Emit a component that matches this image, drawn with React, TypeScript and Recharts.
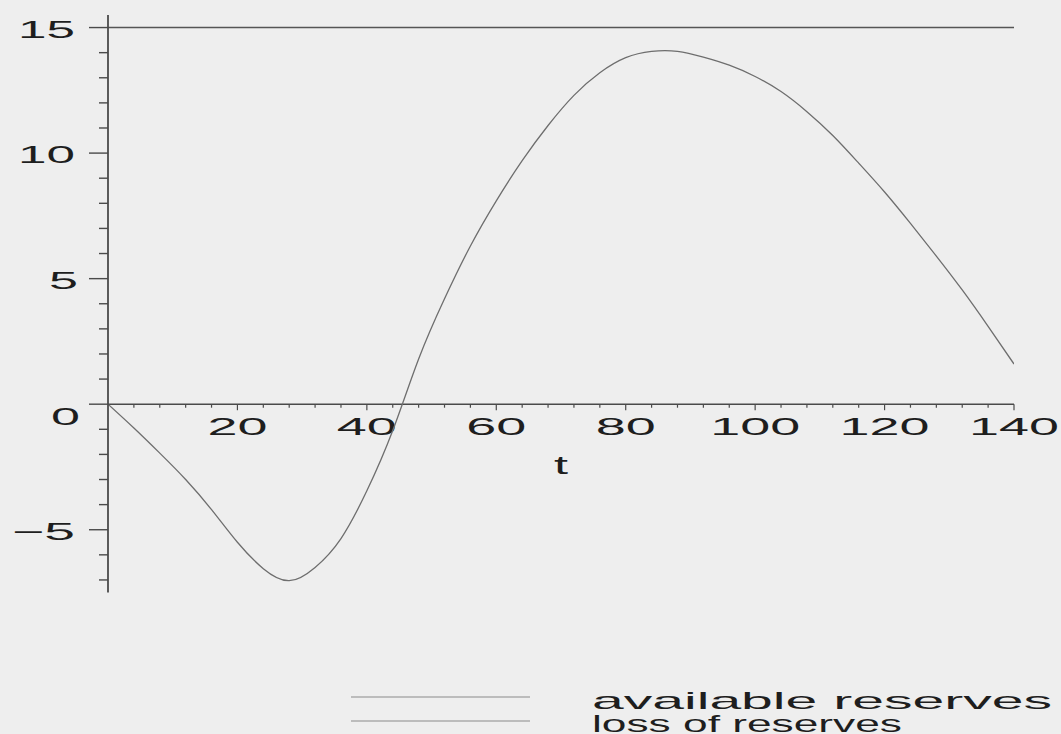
import { LineChart, Line, XAxis, YAxis, ReferenceLine, Legend } from "recharts";

// time axis samples (t) and the loss-of-reserves curve
const tValues = [
  0, 4, 8, 12, 16, 20, 24, 28, 32, 36, 40, 44, 48, 52, 56, 60, 64, 68, 72, 76,
  80, 84, 88, 92, 96, 100, 104, 108, 112, 116, 120, 124, 128, 132, 136, 140,
];
const lossValues = [
  0, -0.95, -1.95, -3.0, -4.2, -5.5, -6.55, -7.03, -6.5, -5.35, -3.45, -1.05, 1.8, 4.2,
  6.3, 8.1, 9.7, 11.1, 12.3, 13.2, 13.8, 14.05, 14.05, 13.82, 13.5, 13.05, 12.45,
  11.65, 10.7, 9.6, 8.45, 7.2, 5.9, 4.55, 3.1, 1.6,
];

// available reserves is a flat level
const availableT = [0, 140];
const availableValues = [15, 15];

const yTicks = [-7, -6, -5, -4, -3, -2, -1, 0, 1, 2, 3, 4, 5, 6, 7, 8, 9, 10, 11, 12, 13, 14, 15];
const yLabels = [-5, 0, 5, 10, 15];
const xTicks = [
  4, 8, 12, 16, 20, 24, 28, 32, 36, 40, 44, 48, 52, 56, 60, 64, 68, 72, 76, 80, 84,
  88, 92, 96, 100, 104, 108, 112, 116, 120, 124, 128, 132, 136, 140,
];
const xLabels = [20, 40, 60, 80, 100, 120, 140];

const lossData = tValues.map((t, i) => ({ t, loss: lossValues[i] }));
const availableData = availableT.map((t, i) => ({ t, available: availableValues[i] }));

const FONT = "'Liberation Sans', Arial, Helvetica, sans-serif";
const INK = "#1e1e1e";
const AXIS = "#4a4a4a";

function YTick(props: any) {
  const { x, y, payload } = props;
  const v = payload.value as number;
  const major = yLabels.includes(v);
  const len = major ? 19 : 9;
  const label = v < 0 ? `\u2212${Math.abs(v)}` : String(v);
  const single = label.length === 1;
  const w = single ? 29 : v < 0 ? 63 : 57;
  return (
    <g>
      <line x1={x - len} y1={y} x2={x} y2={y} stroke={AXIS} strokeWidth={1.4} />
      {major && (
        <text
          x={v === 0 ? 80 : single ? 78 : 75}
          y={y + (v === 0 ? 21 : 10)}
          textAnchor="end"
          fontFamily={FONT}
          fontSize={24}
          fill={INK}
          textLength={w}
          lengthAdjust="spacingAndGlyphs"
        >
          {label}
        </text>
      )}
    </g>
  );
}

const xTickLabel = (text: string) => (props: any) => {
  const vb = props.viewBox;
  return (
    <text
      x={vb.x}
      y={vb.y + 31}
      textAnchor="middle"
      fontFamily={FONT}
      fontSize={24}
      fill={INK}
      textLength={text.length * 30}
      lengthAdjust="spacingAndGlyphs"
    >
      {text}
    </text>
  );
};

const axisTitle = (props: any) => {
  const vb = props.viewBox;
  return (
    <text
      x={vb.x}
      y={vb.y + 70}
      textAnchor="middle"
      fontFamily={FONT}
      fontSize={25}
      fill={INK}
      textLength={14}
      lengthAdjust="spacingAndGlyphs"
    >
      t
    </text>
  );
};

const legendWidths: Record<string, number> = {
  "available reserves": 460,
  "loss of reserves": 310,
};

function renderLegend(props: any) {
  const items = props.payload || [];
  return (
    <svg width={1061} height={58} style={{ display: "block", overflow: "visible" }}>
      {items.map((item: any, i: number) => (
        <g key={item.value}>
          <line x1={351} x2={530} y1={21 + i * 24} y2={21 + i * 24} stroke="#8a8a8a" strokeWidth={1.2} />
          <text
            x={592}
            y={33 + i * 23}
            fontFamily={FONT}
            fontSize={24}
            fill={INK}
            textLength={legendWidths[item.value]}
            lengthAdjust="spacingAndGlyphs"
          >
            {item.value}
          </text>
        </g>
      ))}
    </svg>
  );
}

export default function App() {
  return (
    <div
      style={{
        position: "absolute",
        left: 0,
        top: 0,
        width: 1061,
        height: 734,
        background: "#eeeeee",
        overflow: "hidden",
      }}
    >
      <LineChart
        width={1061}
        height={734}
        data={lossData}
        margin={{ top: 15, right: 47, bottom: 141.5, left: 0 }}
      >
        <XAxis type="number" dataKey="t" domain={[0, 140]} hide allowDataOverflow />
        <YAxis
          type="number"
          domain={[-7.5, 15.5]}
          ticks={yTicks}
          interval={0}
          width={108}
          tickSize={0}
          tickMargin={0}
          tickLine={false}
          axisLine={{ stroke: AXIS, strokeWidth: 1.8 }}
          tick={<YTick />}
          allowDataOverflow
        />
        <ReferenceLine y={0} stroke={AXIS} strokeWidth={1.5} />
        {xTicks.map((v) => (
          <ReferenceLine
            key={v}
            segment={[
              { x: v, y: 0 },
              { x: v, y: xLabels.includes(v) ? -0.24 : -0.14 },
            ]}
            stroke={AXIS}
            strokeWidth={1.2}
            label={xLabels.includes(v) ? xTickLabel(String(v)) : undefined}
          />
        ))}
        <ReferenceLine
          segment={[
            { x: 70, y: 0 },
            { x: 70, y: 0 },
          ]}
          stroke="none"
          label={axisTitle}
        />
        <Line
          data={availableData}
          dataKey="available"
          name="available reserves"
          stroke="#555555"
          strokeWidth={1.5}
          dot={false}
          type="linear"
          isAnimationActive={false}
        />
        <Line
          dataKey="loss"
          name="loss of reserves"
          stroke="#6e6e6e"
          strokeWidth={1.3}
          dot={false}
          type="natural"
          isAnimationActive={false}
        />
        <Legend
          layout="horizontal"
          verticalAlign="middle"
          align="center"
          wrapperStyle={{ left: 0, top: 676, width: 1061, height: 58 }}
          content={renderLegend}
        />
      </LineChart>
    </div>
  );
}
